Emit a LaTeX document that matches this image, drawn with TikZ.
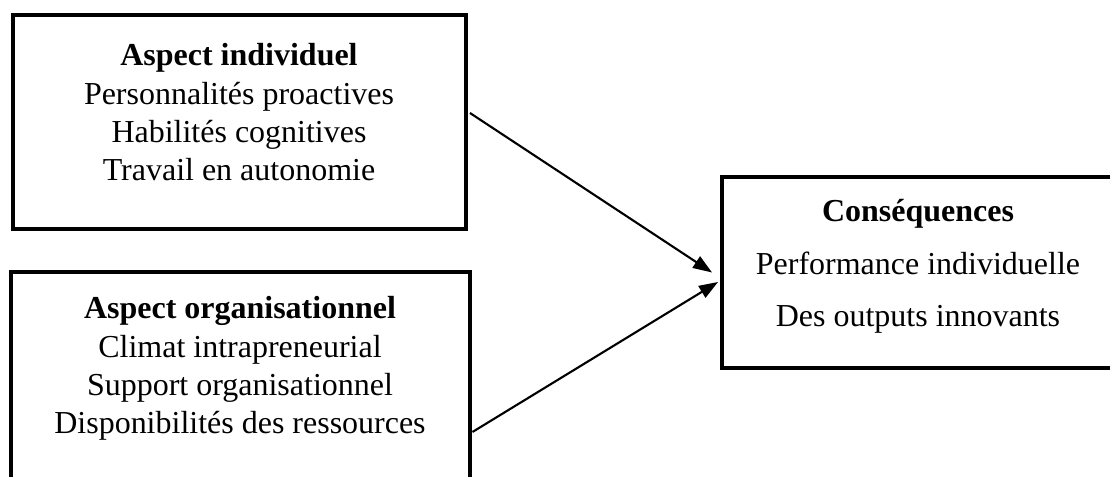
\documentclass[tikz,border=0pt]{standalone}
\usepackage{fontspec}
\setmainfont{Liberation Serif}
\usetikzlibrary{arrows.meta,positioning,calc}

\begin{document}
\begin{tikzpicture}[>={Triangle[length=0.38cm,width=0.27cm]},
  panel/.style={draw,line width=2.8pt,inner sep=0pt},
  blocktext/.style={align=center,inner sep=0pt,anchor=base,font=\fontsize{18.2}{21.9}\selectfont}]
\useasboundingbox (0,0) rectangle (22.2,9.54);
\clip (0,0) rectangle (22.2,9.54);

\node[panel,minimum width=9.06cm,minimum height=4.28cm] (indiv) at (4.79,7.10) {};
\node[blocktext] (indivtxt) at (4.78,5.92) {\textbf{Aspect individuel}\\Personnalités proactives\\Habilités cognitives\\Travail en autonomie};

\node[panel,minimum width=9.18cm,minimum height=5.10cm] (orga) at (4.81,1.55) {};
\node[blocktext] (orgatxt) at (4.80,0.86) {\textbf{Aspect organisationnel}\\Climat intrapreneurial\\Support organisationnel\\Disponibilités des ressources};

\node[panel,minimum width=7.84cm,minimum height=3.82cm] (consq) at (18.36,4.09) {};
\node[blocktext,font=\fontsize{18.2}{30}\selectfont] (consqtxt) at (18.36,3.00) {\textbf{Conséquences}\\Performance individuelle\\Des outputs innovants};

\draw[->,line width=1.2pt] ([xshift=0.03cm,yshift=0.18cm]indiv.east) -- ([xshift=-0.15cm]consq.west);
\draw[->,line width=1.2pt] ([yshift=-0.65cm]orga.east) -- ([xshift=-0.03cm,yshift=-0.19cm]consq.west);
\end{tikzpicture}
\end{document}
